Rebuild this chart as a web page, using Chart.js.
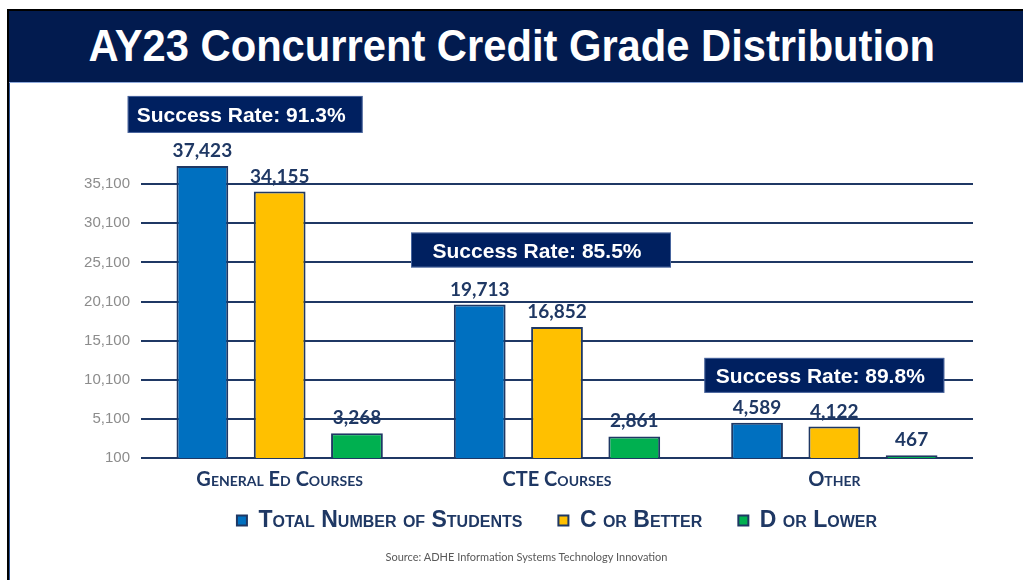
<!DOCTYPE html>
<html>
<head>
<meta charset="utf-8">
<script src="https://cdn.jsdelivr.net/npm/chart.js@4.4.1/dist/chart.umd.min.js"></script>
<style>
  body { margin: 0; width: 1023px; height: 580px; overflow: hidden; background: #fff; position: relative; }
  .edge { position: absolute; background: #000; }
  #band { position: absolute; left: 9px; top: 11px; width: 1014px; height: 71px; background: #021b4f; border-bottom: 1px solid #8ea9db; }
  #title { position: absolute; left: -4px; width: 1014px; top: 12px; text-align: center; color: #fff;
           font: bold 45px/45px 'Liberation Sans', Arial, sans-serif; white-space: nowrap; }
  #title span { display: inline-block; transform-origin: 50% 50%; }
  #inner { position: absolute; left: 9px; top: 83px; width: 1px; height: 497px; background: #2f5597; }
  #wrap { position: absolute; left: 10px; top: 85px; width: 1013px; height: 495px; }
  #src { position: absolute; left: 0; width: 1053px; top: 550px; text-align: center; font: 11px Lato, sans-serif; color: #595959; }
</style>
</head>
<body>
<div class="edge" style="left:7px;top:9px;width:1016px;height:2px"></div>
<div class="edge" style="left:7px;top:9px;width:2px;height:571px"></div>
<div id="band"><div id="title"><span>AY23 Concurrent Credit Grade Distribution</span></div></div>
<div id="inner"></div>
<div id="wrap"><canvas id="c"></canvas></div>
<div id="src">Source: ADHE Information Systems Technology Innovation</div>
<script>
const categories = ['General Ed Courses', 'CTE Courses', 'Other'];
const seriesNames = ['Total Number of Students', 'C or Better', 'D or Lower'];
const totalStudents = [37423, 19713, 4589];
const cOrBetter = [34155, 16852, 4122];
const dOrLower = [3268, 2861, 467];
const successRates = ['91.3%', '85.5%', '89.8%'];
const yTicks = [100, 5100, 10100, 15100, 20100, 25100, 30100, 35100];

const NAVY = '#1f3864';

// squeeze the title to the width used in the slide
const t = document.querySelector('#title span');
t.style.transform = 'scaleX(' + (847 / t.offsetWidth) + ')';

// success-rate boxes: offsets from category centre / top of the blue bar
const RATE_BOX = [
  { l: -152, r: 83, dy: -33, h: 37 },
  { l: -146, r: 114, dy: -37, h: 35 },
  { l: -130, r: 110, dy: -30, h: 35 }
];

const valueLabels = {
  id: 'valueLabels',
  afterDatasetsDraw(chart) {
    const ctx = chart.ctx;
    const xs = chart.scales.x;
    ctx.save();
    ctx.font = 'bold 19px Lato';
    ctx.fillStyle = NAVY;
    ctx.textAlign = 'center';
    ctx.textBaseline = 'alphabetic';
    chart.data.datasets.forEach((ds, i) => {
      chart.getDatasetMeta(i).data.forEach((bar, j) => {
        ctx.fillText(ds.data[j].toLocaleString('en-US'), bar.x, bar.y - 9);
      });
    });

    // category names in small caps under the axis
    ctx.font = 'small-caps bold 20px Lato';
    categories.forEach((c, j) => {
      ctx.fillText(c, xs.getPixelForValue(j), chart.chartArea.bottom + 28);
    });

    // rate boxes
    const blue = chart.getDatasetMeta(0).data;
    ctx.font = 'bold 21px "Liberation Sans", Arial';
    successRates.forEach((rate, j) => {
      const b = RATE_BOX[j];
      const cx = xs.getPixelForValue(j);
      const bottom = blue[j].y + b.dy;
      const top = bottom - b.h;
      ctx.fillStyle = '#002060';
      ctx.fillRect(cx + b.l, top, b.r - b.l, b.h);
      ctx.strokeStyle = 'rgba(143,170,220,0.5)';
      ctx.lineWidth = 1;
      ctx.strokeRect(cx + b.l + 0.5, top + 0.5, b.r - b.l - 1, b.h - 1);
      ctx.fillStyle = '#fff';
      ctx.fillText('Success Rate: ' + rate, cx + (b.l + b.r) / 2 - 4, top + b.h / 2 + 7.5);
    });
    ctx.restore();
  }
};

new Chart(document.getElementById('c'), {
  type: 'bar',
  data: {
    labels: categories,
    datasets: [
      { label: seriesNames[0], data: totalStudents, backgroundColor: '#0070c0' },
      { label: seriesNames[1], data: cOrBetter, backgroundColor: '#ffc000' },
      { label: seriesNames[2], data: dOrLower, backgroundColor: '#00b050' }
    ]
  },
  options: {
    responsive: true,
    maintainAspectRatio: false,
    animation: false,
    layout: { padding: { top: 60, left: 51, right: 50, bottom: 38 } },
    datasets: {
      bar: { borderColor: NAVY, borderWidth: 2, categoryPercentage: 0.836, barPercentage: 0.67 }
    },
    plugins: {
      legend: {
        position: 'bottom',
        fullSize: false,
        labels: {
          color: NAVY,
          boxWidth: 10,
          boxHeight: 10,
          padding: 36,
          font: { family: "'Liberation Sans', Arial", size: 23, weight: 'small-caps bold' }
        }
      },
      tooltip: { enabled: false }
    },
    scales: {
      x: {
        grid: { display: false },
        border: { display: false },
        ticks: { display: false },
        afterFit(s) { s.height = 15; }
      },
      y: {
        min: 100,
        max: 40100,
        afterBuildTicks(s) { s.ticks = yTicks.map(v => ({ value: v })); },
        afterFit(s) { s.width = 80; },
        grid: { color: NAVY, lineWidth: 2, drawTicks: false },
        border: { display: false },
        ticks: {
          color: '#8c8c8c',
          padding: 11,
          font: { family: "'Liberation Sans', Arial", size: 15 },
          callback: v => v.toLocaleString('en-US')
        }
      }
    }
  },
  plugins: [valueLabels]
});
</script>
</body>
</html>
